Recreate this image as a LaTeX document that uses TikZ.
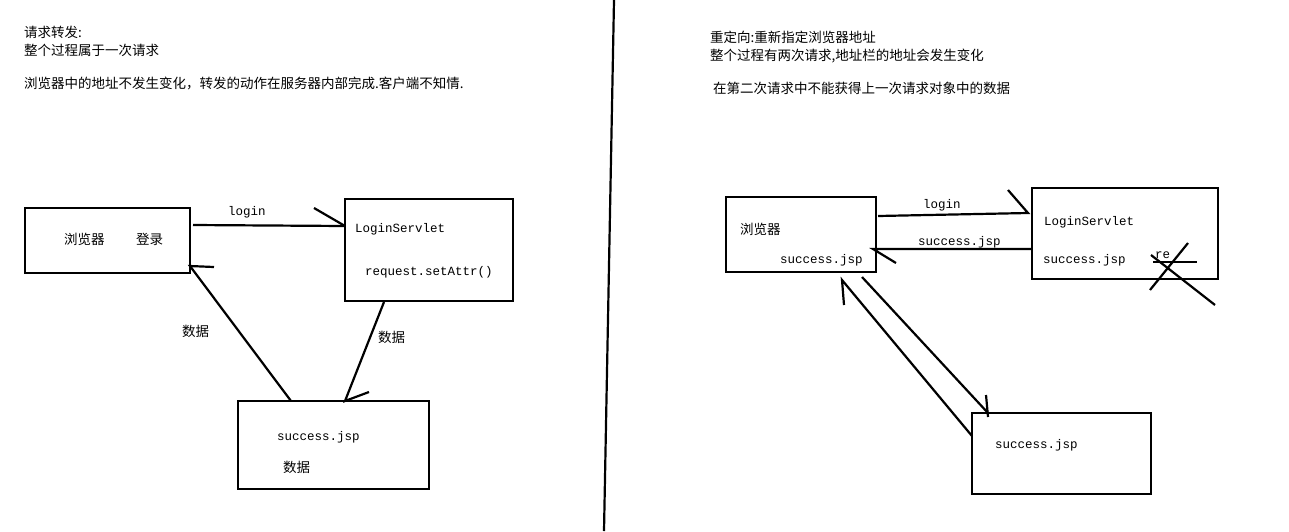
\documentclass[tikz,border=0pt]{standalone}
\usepackage{fontspec}
\setmainfont{Noto Sans CJK SC}
\newfontfamily\monof{Liberation Mono}
\begin{document}
\begin{tikzpicture}[x=1pt,y=-1pt,
  box/.style={draw,line width=2.2pt},
  ln/.style={line width=2.2pt},
  zh/.style={anchor=west,inner sep=0pt,font=\fontsize{13.5}{14}\selectfont},
  mo/.style={anchor=west,inner sep=0pt,font=\monof\fontsize{12.5}{13}\selectfont}]
\useasboundingbox (0,0) rectangle (1289,531);
\draw[ln] (614,0) -- (604,531);
% left
\node[zh] (t1) at (24,32) {请求转发:};
\node[zh] (t2) at (24,50) {整个过程属于一次请求};
\node[zh] (t3) at (24,83) {浏览器中的地址不发生变化，转发的动作在服务器内部完成.客户端不知情.};
\draw[box] (25,208) rectangle (190,273);
\draw[box] (345,199) rectangle (513,301);
\draw[box] (238,401) rectangle (429,489);
\node[zh] (b1) at (64,239) {浏览器};
\node[zh] (b2) at (136,239) {登录};
\node[mo] (l1) at (228,212) {login};
\node[mo] (s1) at (355,229) {LoginServlet};
\node[mo] (s2) at (365,272) {request.setAttr()};
\node[zh] (d1) at (182,331) {数据};
\node[zh] (d2) at (378,337) {数据};
\node[mo] (j1) at (277,437) {success.jsp};
\node[zh] (d3) at (283,467) {数据};
\draw[ln] (193,225) -- (345,226);
\draw[ln] (314,208) -- (345,226);
\draw[ln] (291,401) -- (190,266) -- (214,267);
\draw[ln] (384,302) -- (345,401) -- (369,392);
% right
\node[zh] (r1) at (710,37) {重定向:重新指定浏览器地址};
\node[zh] (r2) at (710,56) {整个过程有两次请求,地址栏的地址会发生变化};
\node[zh] (r3) at (713,88) {在第二次请求中不能获得上一次请求对象中的数据};
\draw[box] (726,197) rectangle (876,272);
\draw[box] (1032,188) rectangle (1218,279);
\draw[box] (972,413) rectangle (1151,494);
\node[zh] (rb) at (740,229) {浏览器};
\node[mo] (rj) at (780,260) {success.jsp};
\node[mo] (rl) at (923,205) {login};
\node[mo] (rj2) at (918,242) {success.jsp};
\node[mo] (rs) at (1044,222) {LoginServlet};
\node[mo] (rs2) at (1043,260) {success.jsp};
\node[mo] (re) at (1155,255) {re};
\node[mo] (rj3) at (995,445) {success.jsp};
\draw[ln] (878,216) -- (1028,213) -- (1008,190);
\draw[ln] (1032,249) -- (873,249) -- (896,263);
\draw[ln] (972,436) -- (842,280) -- (844,305);
\draw[ln] (862,277) -- (988,413);
\draw[ln] (986,395) -- (988,417);
\draw[ln] (1150,290) -- (1188,243);
\draw[ln] (1151,255) -- (1215,305);
\draw[ln] (1153,262) -- (1197,262);
\end{tikzpicture}
\end{document}
